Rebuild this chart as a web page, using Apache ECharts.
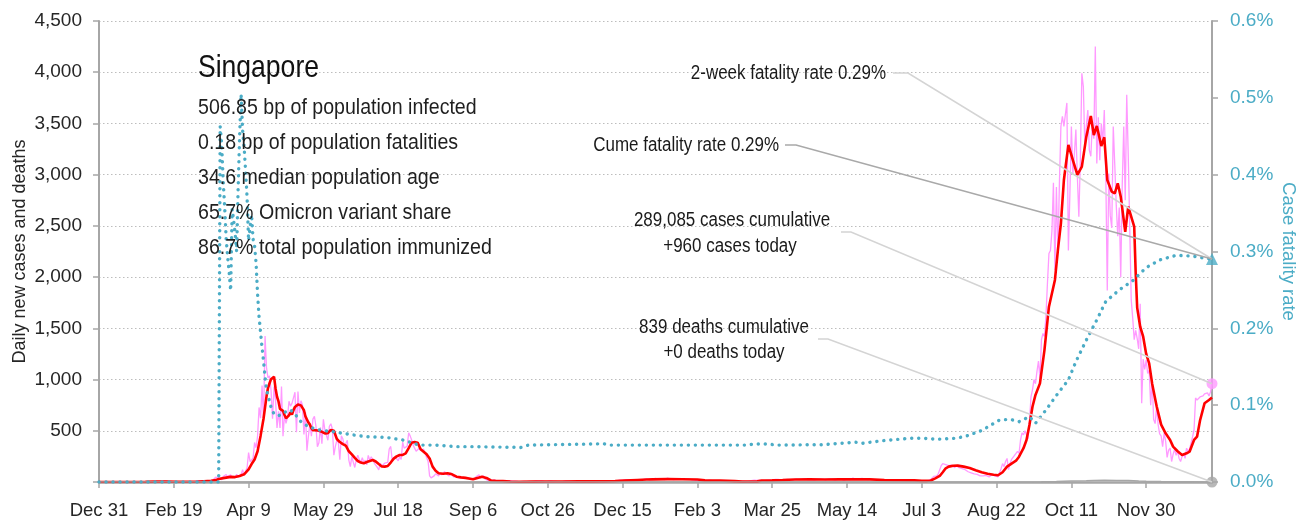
<!DOCTYPE html>
<html>
<head>
<meta charset="utf-8">
<script src="https://cdn.jsdelivr.net/npm/echarts@6/dist/echarts.min.js"></script>
<style>
html, body { margin: 0; padding: 0; background: #ffffff; }
#chart { width: 1314px; height: 522px; }
</style>
</head>
<body>
<div id="chart"></div>
<script>
// Singapore COVID-19: daily cases, 7-day average, daily deaths and cumulative case fatality rate.
// x values are days counted from Dec 31, 2019.
const startDate = Date.UTC(2019, 11, 31);
const lastDay = 744;
const dayStep = 50;
const monthNames = ['Jan', 'Feb', 'Mar', 'Apr', 'May', 'Jun', 'Jul', 'Aug', 'Sep', 'Oct', 'Nov', 'Dec'];

const caseAxis = { min: 0, max: 4500, step: 500 };
const rateAxis = { min: 0, max: 0.6, step: 0.1 };

const country = 'Singapore';
const infoLines = [
  '506.85 bp of population infected',
  '0.18 bp of population fatalities',
  '34.6 median population age',
  '65.7% Omicron variant share',
  '86.7% total population immunized'
];
const cumCases = 289085;
const casesToday = 960;
const cumDeaths = 839;
const deathsToday = 0;
const twoWeekRate = 0.29;

// daily new cases, one value per day from Dec 31, 2019
const dailyCases = [
  0,
  // 2020 Jan
  0,0,0,0,0,0,0,0,0,0,0,0,0,0,0,0,0,0,0,0,0,0,1,2,0,1,1,2,0,3,3,
  // Feb
  2,2,1,6,4,7,3,7,3,2,2,3,9,8,5,3,2,2,3,2,1,3,1,1,1,2,3,3,2,
  // Mar
  4,2,2,2,7,13,8,12,12,10,12,12,13,14,14,17,23,47,32,40,47,23,54,49,73,52,49,70,42,35,47,
  // Apr
  74,49,65,75,120,66,106,142,287,198,191,233,386,334,447,728,623,942,596,1426,1111,1016,1037,897,618,931,799,528,690,528,
  // May
  932,447,657,573,632,788,741,768,753,876,486,884,675,793,752,465,682,305,451,570,448,614,642,548,344,383,533,373,611,506,518,
  // Jun
  408,544,569,517,261,347,407,386,218,451,422,347,347,407,214,151,247,193,142,218,262,218,191,238,191,213,167,260,213,246,
  // Jul
  215,185,183,144,119,183,157,154,184,170,191,322,347,214,211,248,250,207,247,220,390,330,320,350,480,450,410,360,330,300,290,
  // Aug
  330,310,300,320,280,240,200,60,40,50,60,80,90,60,90,70,60,100,80,70,60,90,80,50,40,50,60,40,50,40,30,
  // Sep
  40,40,40,30,30,20,30,50,60,70,40,50,60,30,20,15,15,10,10,20,15,11,14,8,16,9,13,6,10,12,
  // Oct
  6,10,4,9,13,5,8,4,11,6,7,3,9,5,12,4,6,10,5,8,4,11,7,3,9,6,5,10,4,7,6,
  // Nov
  5,9,4,8,6,3,10,5,7,4,6,9,5,3,8,6,4,7,10,5,4,6,8,3,5,9,6,4,7,5,
  // Dec
  5,8,12,6,9,7,12,8,10,15,9,14,18,16,15,20,22,18,24,15,20,25,18,19,20,26,22,30,25,26,30,
  // 2021 Jan
  35,20,32,25,28,35,30,25,40,30,26,22,34,38,28,30,26,24,35,28,22,30,18,32,26,28,24,30,30,22,20,
  // Feb
  18,20,12,15,22,18,14,16,12,20,18,10,14,16,12,9,10,20,14,11,12,9,8,10,6,5,8,7,
  // Mar
  5,4,6,5,8,4,6,7,5,6,14,16,18,20,15,14,16,18,12,15,16,20,17,14,16,14,26,22,25,30,20,
  // Apr
  25,20,28,26,30,22,24,20,22,28,30,24,26,25,30,28,22,24,30,26,20,22,30,25,32,28,24,26,30,22,
  // May
  28,30,24,26,22,20,27,25,34,28,20,18,30,30,25,22,30,38,28,26,24,30,32,36,25,30,22,24,26,28,22,
  // Jun
  24,20,18,22,20,16,14,18,20,15,18,14,16,20,18,16,12,18,14,16,20,18,15,14,16,18,20,14,16,12,
  // Jul
  8,10,12,10,12,8,10,20,25,40,55,65,60,80,90,160,180,190,170,185,160,150,165,150,140,160,150,140,135,130,125,
  // Aug
  120,110,100,98,90,95,80,70,75,66,60,55,60,70,65,60,50,60,70,80,60,60,50,90,130,180,150,200,230,120,180,
  // Sep
  220,210,260,250,300,280,410,480,460,500,510,420,600,830,900,1000,960,1080,1180,1010,1390,1450,1420,1620,1940,2230,2260,2450,2920,2070,
  // Oct
  2880,2230,2920,3470,3570,3470,3590,3700,2260,2810,3470,3010,3200,3440,2980,2590,3150,3990,3860,3270,3480,3630,3240,3180,3500,3350,4250,3110,3560,3140,3500,
  // Nov
  3310,3630,3010,1870,3010,2600,2480,3470,3100,2700,2400,2680,2000,2900,3470,2750,3780,3200,2500,1780,1600,1390,1480,1400,1300,1740,770,1200,1100,1190,
  // Dec
  1060,1090,750,1000,610,570,740,560,470,450,345,480,400,240,310,330,200,270,320,260,300,230,200,250,280,230,330,300,320,380,440,
  // 2022 Jan
  510,820,800,810,830,820,840,860,850,870,840,880,960
];

// 7-day average of new cases: [day, cases]
const avgCases = [
  [0,0],[22,0],[25,0.5],[31,1.5],[38,3.5],[45,4],[52,3],[60,2],[65,2.5],[70,8],[75,12],[78,18],[80,29],[84,40],[88,50],
  [91,48],[94,58],[97,75],[100,123],[102,175],[104,220],[106,300],[108,450],[110,620],[111,728],[112,839],[113,920],
  [114,964],[115,1004],[116,990],[117,1028],[118,916],[119,832],[120,786],[121,713],[122,718],[123,694],[124,654],
  [125,622],[126,637],[127,651],[128,681],[129,658],[130,702],[131,733],[132,721],[133,757],[134,740],[135,748],
  [136,740],[137,700],[138,640],[139,610],[140,580],[141,560],[142,525],[143,505],[144,520],[145,505],[146,510],
  [147,500],[148,495],[149,490],[150,490],[151,475],[152,470],[153,476],[155,508],[157,500],[159,420],[161,390],
  [163,370],[165,355],[167,300],[169,270],[171,235],[173,205],[175,190],[177,182],[179,195],[181,205],[183,215],
  [185,200],[187,175],[189,152],[191,150],[193,156],[195,190],[197,228],[199,250],[201,264],[203,265],[205,280],
  [207,330],[209,384],[211,390],[213,384],[215,320],[217,296],[219,270],[221,230],[223,150],[225,110],[227,85],
  [230,80],[233,85],[236,75],[239,52],[242,45],[245,40],[248,32],[250,26],[253,40],[256,52],[259,40],[262,15],
  [265,12],[270,10],[275,5],[281,3],[290,4],[300,5],[310,5],[320,6],[330,6],[340,8],[345,10],[351,14],[360,20],
  [366,24],[370,26],[380,28],[390,27],[400,24],[405,16],[415,14],[425,9],[430,5],[440,6],[443,14],[450,16],[457,20],
  [465,25],[475,26],[485,25],[495,26],[505,27],[515,26],[525,20],[535,17],[545,16],[550,11],[553,11],[556,15],
  [559,35],[562,59],[564,95],[566,134],[568,150],[571,158],[574,160],[578,150],[582,137],[586,115],[590,95],[594,80],
  [598,70],[601,66],[604,95],[607,150],[610,180],[613,208],[615,247],[618,330],[620,410],[622,560],[624,735],
  [626,850],[629,963],[632,1288],[635,1711],[639,1972],[641,2265],[643,2525],[645,2948],[648,3290],[651,3143],
  [654,2997],[657,3078],[660,3371],[663,3572],[665,3387],[667,3475],[670,3280],[672,3365],[674,2948],[677,2834],
  [679,2818],[681,2916],[683,2785],[686,2443],[688,2687],[691,2541],[692,2492],[693,2037],[694,1700],[696,1516],
  [698,1418],[700,1250],[702,1158],[704,960],[707,740],[710,560],[713,475],[716,410],[718,345],[721,300],[724,264],
  [727,280],[729,296],[732,410],[734,442],[736,600],[739,768],[742,800],[744,825]
];

// daily deaths: [day, deaths]
const dailyDeaths = [
  [0,0],[600,0],[620,1],[630,3],[640,6],[650,10],[660,12],[665,15],[672,16],[680,14],[688,14],[695,10],
  [700,8],[710,5],[720,3],[730,2],[744,0]
];

// cumulative case fatality rate, percent: [day, rate]
const fatalityRate = [
  [0,0],[80,0],[81,0.463],[82,0.44],[83,0.393],[84,0.358],[85,0.317],[86,0.293],[87,0.273],[88,0.249],[89,0.355],
  [90,0.341],[91,0.324],[92,0.3],[93,0.381],[94,0.449],[95,0.505],[96,0.458],[97,0.436],[98,0.405],[99,0.37],
  [100,0.314],[101,0.332],[102,0.348],[103,0.316],[104,0.308],[105,0.285],[106,0.245],[107,0.215],[108,0.195],
  [109,0.175],[110,0.157],[111,0.137],[112,0.12],[113,0.112],[114,0.105],[115,0.097],[116,0.092],[117,0.089],
  [118,0.087],[120,0.086],[122,0.089],[125,0.0915],[128,0.094],[132,0.086],[135,0.0785],[140,0.072],[147,0.0677],
  [156,0.0655],[170,0.0612],[179,0.059],[192,0.058],[203,0.0547],[214,0.048],[225,0.048],[239,0.046],[250,0.046],
  [282,0.045],[287,0.048],[332,0.0495],[337,0.05],[341,0.048],[433,0.048],[438,0.0495],[448,0.0495],[452,0.048],
  [484,0.0486],[493,0.05],[506,0.0517],[510,0.0503],[524,0.0538],[542,0.0569],[551,0.0569],[560,0.0556],
  [573,0.0569],[580,0.06],[590,0.067],[597,0.075],[602,0.0807],[609,0.0816],[615,0.0785],[622,0.085],[626,0.0764],
  [633,0.0937],[641,0.1154],[648,0.1328],[653,0.1566],[660,0.1848],[667,0.211],[673,0.235],[682,0.25],[691,0.262],
  [700,0.279],[709,0.289],[720,0.295],[731,0.294],[740,0.291],[744,0.2902]
];

const cumeRate = cumDeaths / cumCases * 100;

const FONT = '"Liberation Sans", Arial, sans-serif';
const NARROW = 0.87; // horizontal squeeze for the condensed caption type
const TEAL = '#4bacc6';
const PINK = '#ff99ff';
const RED = '#ff0000';
const AXIS_GRAY = '#a6a6a6';
const TEXT = '#262626';

function dayLabel(d) {
  const t = new Date(startDate + d * 86400000);
  return monthNames[t.getUTCMonth()] + ' ' + t.getUTCDate();
}

const chart = echarts.init(document.getElementById('chart'), null, { renderer: 'canvas' });

chart.setOption({
  animation: false,
  backgroundColor: '#ffffff',
  textStyle: { fontFamily: FONT },
  grid: { left: 99, right: 102, top: 21, bottom: 40, containLabel: false, outerBoundsMode: 'none' },
  xAxis: {
    type: 'value',
    min: 0,
    max: lastDay,
    interval: dayStep,
    axisLine: { show: true, lineStyle: { color: AXIS_GRAY, width: 2.5 } },
    axisTick: { show: true, length: 6, lineStyle: { color: AXIS_GRAY, width: 1.5 } },
    axisLabel: {
      show: true, margin: 19, fontSize: 18.5, color: TEXT, fontFamily: FONT,
      showMaxLabel: false,
      formatter: v => (v % dayStep === 0 ? dayLabel(v) : '')
    },
    splitLine: { show: false }
  },
  yAxis: [
    {
      type: 'value',
      min: caseAxis.min,
      max: caseAxis.max,
      interval: caseAxis.step,
      position: 'left',
      name: 'Daily new cases and deaths',
      nameLocation: 'middle',
      nameRotate: 90,
      nameGap: 70,
      nameMoveOverlap: false,
      nameTextStyle: { fontSize: 18, color: TEXT, fontFamily: FONT },
      axisLine: { show: true, lineStyle: { color: AXIS_GRAY, width: 2 } },
      axisTick: { show: true, length: 6, lineStyle: { color: AXIS_GRAY, width: 1.5 } },
      axisLabel: {
        margin: 17, fontSize: 19, color: TEXT, fontFamily: FONT,
        formatter: v => (v === 0 ? '' : v.toLocaleString('en-US'))
      },
      splitLine: { show: true, lineStyle: { color: '#bdbdbd', width: 1, type: [1.5, 2.5] } }
    },
    {
      type: 'value',
      min: rateAxis.min,
      max: rateAxis.max,
      interval: rateAxis.step,
      position: 'right',
      name: 'Case fatality rate',
      nameLocation: 'middle',
      nameRotate: -90,
      nameGap: 67,
      nameMoveOverlap: false,
      nameTextStyle: { fontSize: 18.5, color: TEAL, fontFamily: FONT },
      axisLine: { show: true, lineStyle: { color: AXIS_GRAY, width: 2 } },
      axisTick: { show: true, length: 6, lineStyle: { color: AXIS_GRAY, width: 1.5 } },
      axisLabel: {
        margin: 18, fontSize: 19, color: TEAL, fontFamily: FONT,
        formatter: v => v.toFixed(1) + '%'
      },
      splitLine: { show: false }
    }
  ],
  series: [
    {
      name: 'Daily new cases',
      type: 'line',
      data: dailyCases.map((v, i) => [i, v]),
      symbol: 'none',
      lineStyle: { color: PINK, width: 1.3 },
      z: 2
    },
    {
      name: '7-day average',
      type: 'line',
      data: avgCases,
      symbol: 'none',
      lineStyle: { color: RED, width: 2.6 },
      z: 3
    },
    {
      name: 'Daily deaths',
      type: 'line',
      data: dailyDeaths,
      symbol: 'none',
      lineStyle: { color: AXIS_GRAY, width: 1.5 },
      z: 3
    },
    {
      name: 'Case fatality rate',
      type: 'line',
      yAxisIndex: 1,
      data: fatalityRate,
      symbol: 'none',
      lineStyle: { color: TEAL, width: 3.4, type: [0.1, 6.9], cap: 'round' },
      z: 4
    },
    {
      name: 'Cases today',
      type: 'scatter',
      data: [[lastDay, casesToday]],
      symbol: 'circle',
      symbolSize: 11,
      itemStyle: { color: PINK },
      clip: false,
      z: 6
    },
    {
      name: 'Cume fatality rate',
      type: 'scatter',
      yAxisIndex: 1,
      data: [[lastDay, cumeRate]],
      symbol: 'triangle',
      symbolSize: 12,
      itemStyle: { color: TEAL },
      clip: false,
      z: 6
    },
    {
      name: 'Deaths today',
      type: 'scatter',
      data: [[lastDay, deathsToday]],
      symbol: 'circle',
      symbolSize: 11,
      itemStyle: { color: AXIS_GRAY },
      clip: false,
      z: 6
    }
  ]
});

// Text block and leader lines to the latest values
const casesEnd = chart.convertToPixel({ xAxisIndex: 0, yAxisIndex: 0 }, [lastDay, casesToday]);
const deathsEnd = chart.convertToPixel({ xAxisIndex: 0, yAxisIndex: 0 }, [lastDay, deathsToday]);
const rateEnd = chart.convertToPixel({ xAxisIndex: 0, yAxisIndex: 1 }, [lastDay, cumeRate]);

function label(text, x, y, size, align, color) {
  return {
    type: 'text', x: x, y: y, z: 100, silent: true,
    scaleX: NARROW, scaleY: 1,
    style: {
      text: text, fill: color || '#1a1a1a',
      font: size + 'px ' + FONT,
      align: align || 'left', verticalAlign: 'middle'
    }
  };
}
function leader(points, color) {
  return {
    type: 'polyline', z: 90, silent: true,
    shape: { points: points },
    style: { stroke: color, lineWidth: 1.6, fill: null }
  };
}

const graphics = [
  label(country, 198, 69, 30.5, 'left', '#111111')
];
infoLines.forEach((t, i) => graphics.push(label(t, 198, 108 + i * 35, 22.5, 'left', '#1f1f1f')));

graphics.push(
  label('2-week fatality rate ' + twoWeekRate.toFixed(2) + '%', 886, 74, 19.5, 'right'),
  label('Cume fatality rate ' + cumeRate.toFixed(2) + '%', 779, 145.5, 19.5, 'right'),
  label(cumCases.toLocaleString('en-US') + ' cases cumulative', 732, 221, 19.5, 'center'),
  label('+' + casesToday.toLocaleString('en-US') + ' cases today', 730, 247, 19.5, 'center'),
  label(cumDeaths.toLocaleString('en-US') + ' deaths cumulative', 724, 328, 19.5, 'center'),
  label('+' + deathsToday + ' deaths today', 724, 353, 19.5, 'center'),
  leader([[893, 73], [908, 73], rateEnd], '#d4d4d4'),
  leader([[785, 145], [796, 145], rateEnd], '#a9a9a9'),
  leader([[841, 232], [851, 232], casesEnd], '#d4d4d4'),
  leader([[818, 339], [828, 339], deathsEnd], '#d4d4d4')
);

chart.setOption({ graphic: graphics });
</script>
</body>
</html>
